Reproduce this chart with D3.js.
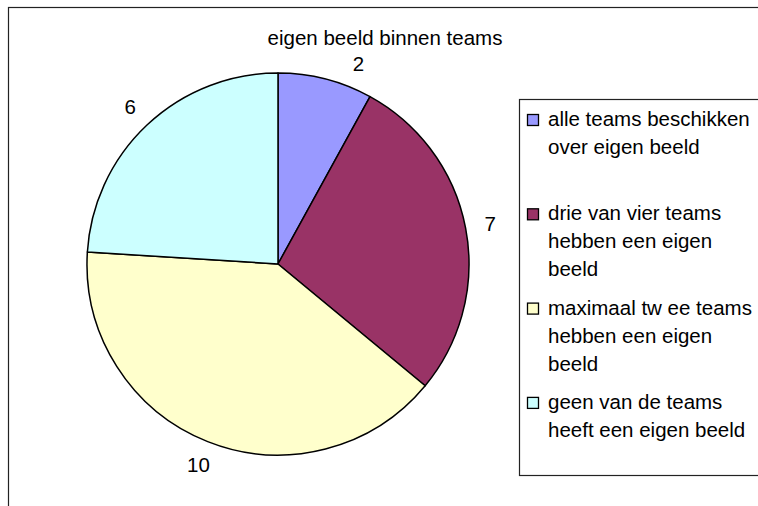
<!DOCTYPE html>
<html lang="nl">
<head>
    <meta charset="UTF-8">
    <title>eigen beeld binnen teams</title>
    <script src="https://d3js.org/d3.v7.min.js"></script>
    <style>
        body {
            margin: 0;
            background-color: #FFFFFF;
        }
        text {
            font-family: 'Liberation Sans', Arial, sans-serif;
            font-size: 20.5px;
            fill: #000;
        }
    </style>
</head>
<body>
    <script>
        // Data
        const categories = [
            "alle teams beschikken over eigen beeld",
            "drie van vier teams hebben een eigen beeld",
            "maximaal tw ee teams hebben een eigen beeld",
            "geen van de teams heeft een eigen beeld"
        ];
        const values = [2, 7, 10, 6];
        const colors = ["#9999FF", "#993366", "#FFFFCC", "#CCFFFF"];
        const title = "eigen beeld binnen teams";

        const width = 758, height = 506;
        const cx = 278, cy = 264, radius = 191, labelRadius = 216;

        const svg = d3.select("body").append("svg")
            .attr("width", width)
            .attr("height", height);

        // outer chart border (runs off the right and bottom edge)
        svg.append("rect")
            .attr("x", 8.5).attr("y", 7.5)
            .attr("width", 800).attr("height", 600)
            .attr("fill", "none")
            .attr("stroke", "#222")
            .attr("stroke-width", 1.2);

        // title
        const titleText = svg.append("text")
            .attr("x", 385).attr("y", 45)
            .attr("text-anchor", "middle")
            .text(title);
        const titleBottom = 45 + 6;

        const pie = d3.pie().sort(null).value(d => d);
        const arcs = pie(values);
        const arc = d3.arc().innerRadius(0).outerRadius(radius);

        const g = svg.append("g")
            .attr("transform", `translate(${cx},${cy})`);

        g.selectAll("path")
            .data(arcs)
            .enter().append("path")
            .attr("d", arc)
            .attr("fill", (d, i) => colors[i])
            .attr("stroke", "#000")
            .attr("stroke-width", 1.5)
            .attr("stroke-linejoin", "round");

        // value labels outside the pie, nudged clockwise when they hit the title
        g.selectAll(".lbl")
            .data(arcs)
            .enter().append("text")
            .attr("class", "lbl")
            .attr("text-anchor", "middle")
            .attr("dy", "0.36em")
            .each(function(d) {
                let a = (d.startAngle + d.endAngle) / 2;
                let x = labelRadius * Math.sin(a), y = -labelRadius * Math.cos(a);
                while (cy + y - 8 < titleBottom + 4 && a < d.endAngle) {
                    a += 0.01;
                    x = labelRadius * Math.sin(a);
                    y = -labelRadius * Math.cos(a);
                }
                d3.select(this).attr("x", x).attr("y", y);
            })
            .text(d => d.data);

        // legend
        const legend = svg.append("g");
        legend.append("rect")
            .attr("x", 519.5).attr("y", 99.5)
            .attr("width", 300).attr("height", 376)
            .attr("fill", "#fff")
            .attr("stroke", "#222")
            .attr("stroke-width", 1.2);

        const maxLine = 212, lineH = 28, firstBase = 126, step = 94.3;

        categories.forEach((cat, i) => {
            const base = firstBase + i * step;
            legend.append("rect")
                .attr("x", 527.5).attr("y", base - 11.5)
                .attr("width", 11).attr("height", 11)
                .attr("fill", colors[i])
                .attr("stroke", "#000")
                .attr("stroke-width", 1.3);

            const t = legend.append("text").attr("x", 548).attr("y", base);
            const words = cat.split(" ");
            let line = [], lineNo = 0;
            let tspan = t.append("tspan").attr("x", 548).attr("y", base);
            words.forEach(w => {
                line.push(w);
                tspan.text(line.join(" "));
                if (tspan.node().getComputedTextLength() > maxLine && line.length > 1) {
                    line.pop();
                    tspan.text(line.join(" "));
                    line = [w];
                    lineNo++;
                    tspan = t.append("tspan").attr("x", 548)
                        .attr("y", base + lineNo * lineH).text(w);
                }
            });
        });
    </script>
</body>
</html>
